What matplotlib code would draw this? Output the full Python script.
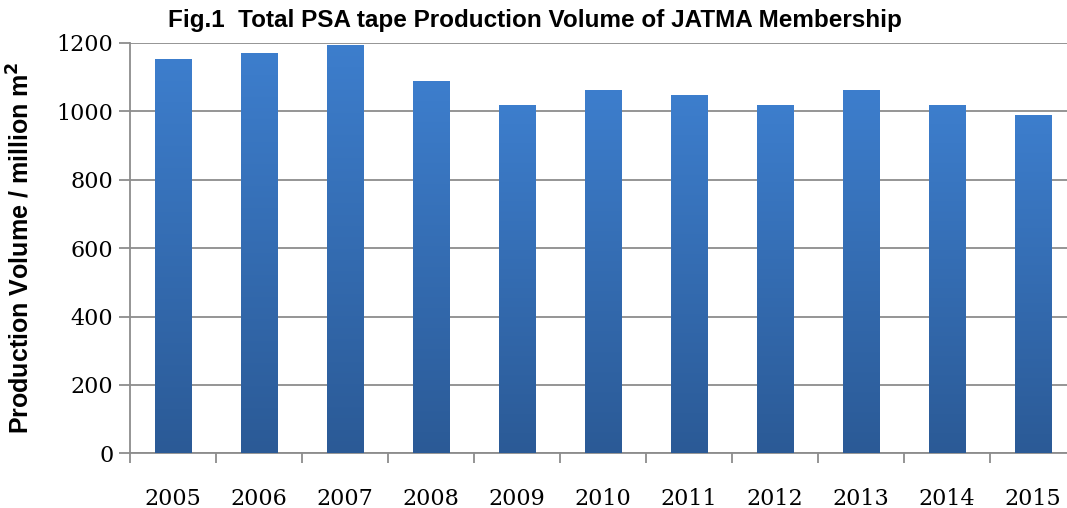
import numpy as np
import matplotlib
matplotlib.use("Agg")
import matplotlib.pyplot as plt
from matplotlib.colors import LinearSegmentedColormap

years = ["2005", "2006", "2007", "2008", "2009", "2010", "2011", "2012", "2013", "2014", "2015"]
volume = [1154, 1172, 1195, 1090, 1019, 1064, 1047, 1020, 1064, 1020, 988]
yticks = [0, 200, 400, 600, 800, 1000, 1200]

fig = plt.figure(figsize=(10.67, 5.08), dpi=100)
ax = fig.add_axes([130 / 1067, (508 - 453.3) / 508, (1076 - 130) / 1067, (453.3 - 43) / 508])

x = np.arange(len(years))
bars = ax.bar(x, volume, width=0.43, color="none", edgecolor="none", zorder=3)

cmap = LinearSegmentedColormap.from_list("g", ["#2b5a96", "#3d7ecd"])
grad = np.linspace(0, 1, 256).reshape(-1, 1)
for b in bars:
    x0, y0 = b.get_x(), b.get_y()
    w, h = b.get_width(), b.get_height()
    im = ax.imshow(grad, cmap=cmap, origin="lower", aspect="auto",
                   extent=[x0, x0 + w, y0, y0 + h], zorder=3, interpolation="bilinear")
    im.set_clip_path(b)

ax.set_xlim(-0.5, len(years) - 0.5)
ax.set_ylim(0, 1200)
ax.set_yticks(yticks)
ax.set_yticklabels([str(v) for v in yticks], fontfamily="DejaVu Serif", fontsize=16)
ax.yaxis.grid(True, color="#8c8c8c", linewidth=1.3, zorder=0)
ax.set_axisbelow(True)

ax.set_xticks(np.arange(-0.5, len(years), 1.0))
ax.set_xticklabels([])
ax.set_xticks(x, minor=True)
ax.set_xticklabels(years, minor=True, fontfamily="DejaVu Serif", fontsize=16)
ax.tick_params(axis="x", which="major", length=7, width=1.3, color="#8c8c8c", direction="out")
ax.tick_params(axis="x", which="minor", length=0, pad=25)
ax.tick_params(axis="y", length=8, width=1.3, color="#8c8c8c", direction="out", pad=4)

for s in ["top", "right"]:
    ax.spines[s].set_visible(False)
for s in ["left", "bottom"]:
    ax.spines[s].set_color("#8c8c8c")
    ax.spines[s].set_linewidth(1.3)

ax.set_ylabel("Production Volume / million m$^\\mathbf{2}$", fontfamily="Liberation Sans",
              fontweight="bold", fontsize=18, labelpad=16)
fig.text(535 / 1067, 1 - 21 / 508, "Fig.1  Total PSA tape Production Volume of JATMA Membership",
         ha="center", va="center", fontfamily="Liberation Sans", fontweight="bold", fontsize=17.5)

fig.savefig("out.png", dpi=100)
